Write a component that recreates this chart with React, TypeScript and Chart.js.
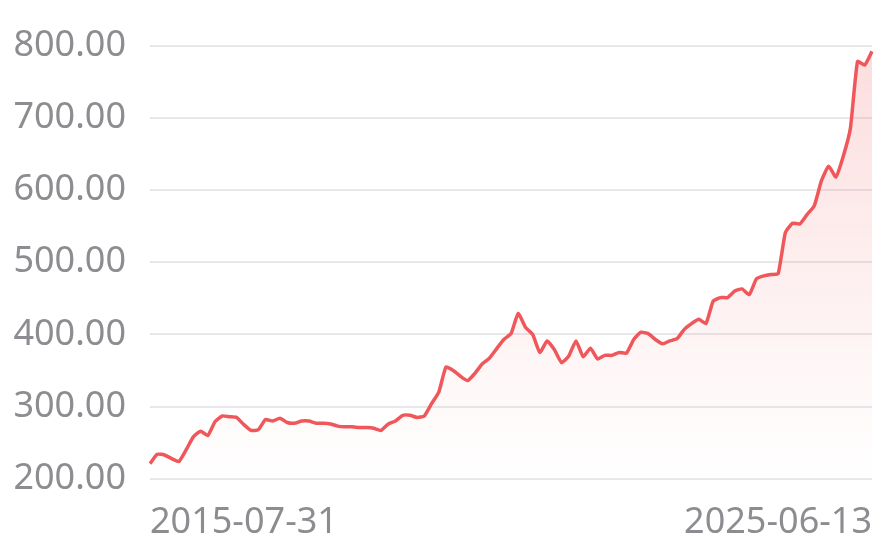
import { useEffect, useRef } from "react"
import { Chart, registerables } from "chart.js"

Chart.register(...registerables)

// first and last dates shown under the axis
const dateTicks = ["2015-07-31", "2025-06-13"]

// y axis range and tick step
const yTicks = [200, 300, 400, 500, 600, 700, 800]

// price series left to right
const prices = [
  221, 234, 233, 228, 224, 240, 258, 266, 260, 279,
  287, 286, 285, 275, 267, 268, 282, 280, 284, 278,
  277, 280, 280, 277, 277, 276, 273, 272, 272, 271,
  271, 270, 267, 276, 280, 288, 288, 285, 287, 304,
  320, 355, 350, 342, 336, 346, 359, 367, 380, 393,
  401, 429, 410, 400, 375, 391, 379, 361, 370, 391,
  369, 381, 366, 371, 371, 375, 374, 393, 403, 401,
  393, 387, 391, 394, 407, 415, 421, 415, 446, 451,
  451, 460, 463, 455, 477, 481, 483, 484, 541, 554,
  553, 566, 578, 613, 633, 618, 646, 685, 778, 773,
  792,
]

const labels = prices.map((_, i) =>
  i === 0 ? dateTicks[0] : i === prices.length - 1 ? dateTicks[1] : ""
)

const FONT = "'Noto Sans', 'Open Sans', sans-serif"

export default function App() {
  const canvasRef = useRef<HTMLCanvasElement>(null)
  const chartRef = useRef<Chart | null>(null)

  useEffect(() => {
    document.body.style.margin = "0"
    if (!canvasRef.current) return
    if (chartRef.current) chartRef.current.destroy()

    const ctx = canvasRef.current.getContext("2d")
    if (!ctx) return

    chartRef.current = new Chart(ctx, {
      type: "line",
      data: {
        labels,
        datasets: [
          {
            data: prices,
            borderColor: "#f0575a",
            borderWidth: 3.5,
            pointRadius: 0,
            tension: 0.15,
            fill: "start",
            backgroundColor: (context) => {
              const area = context.chart.chartArea
              if (!area) return "rgba(240, 87, 90, 0.1)"
              const g = context.chart.ctx.createLinearGradient(0, area.top, 0, area.bottom)
              g.addColorStop(0, "rgba(240, 87, 90, 0.2)")
              g.addColorStop(1, "rgba(240, 87, 90, 0)")
              return g
            },
          },
        ],
      },
      options: {
        responsive: true,
        maintainAspectRatio: false,
        animation: false,
        layout: { padding: { left: 12, right: 16, top: 22, bottom: 0 } },
        plugins: {
          legend: { display: false },
          tooltip: { enabled: false },
        },
        scales: {
          x: {
            grid: { display: false },
            border: { display: false },
            ticks: {
              autoSkip: false,
              maxRotation: 0,
              align: "inner",
              padding: 14,
              color: "#8c8c91",
              font: { family: FONT, size: 36 },
            },
          },
          y: {
            min: yTicks[0],
            max: yTicks[yTicks.length - 1],
            grid: { color: "#e8e8ec", lineWidth: 2, drawTicks: false },
            border: { display: false },
            afterFit: (scale) => {
              scale.width = 138
            },
            ticks: {
              stepSize: yTicks[1] - yTicks[0],
              padding: 24,
              color: "#8c8c91",
              font: { family: FONT, size: 36 },
              callback: (value) => Number(value).toFixed(2),
            },
          },
        },
      },
    })

    return () => {
      if (chartRef.current) {
        chartRef.current.destroy()
        chartRef.current = null
      }
    }
  }, [])

  return (
    <div style={{ width: 888, height: 558, position: "relative" }}>
      <canvas ref={canvasRef} />
    </div>
  )
}
